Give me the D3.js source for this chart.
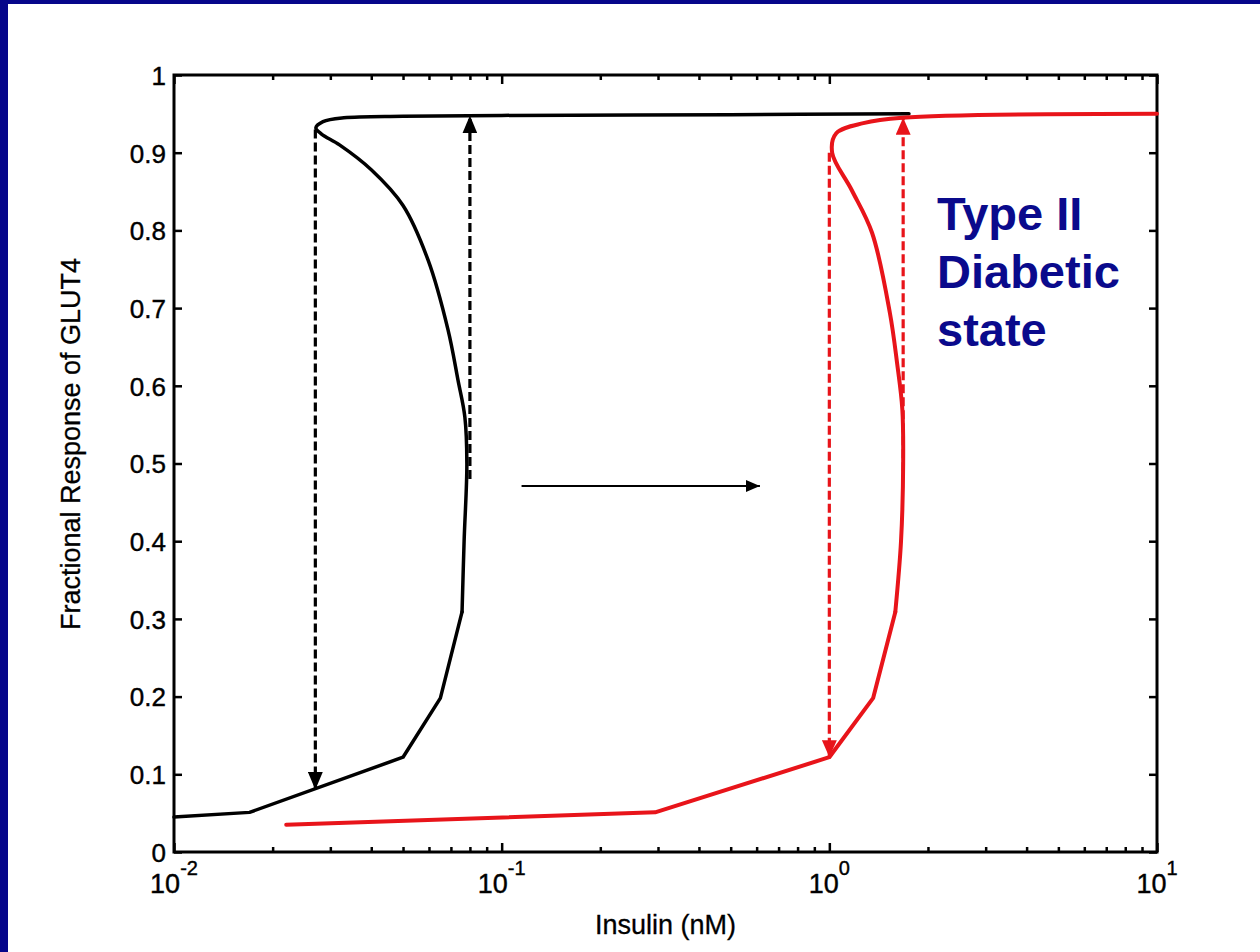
<!DOCTYPE html>
<html>
<head>
<meta charset="utf-8">
<script src="https://cdn.jsdelivr.net/npm/d3@7"></script>
<style>
    body { margin: 0; background: #fff; }
    svg { display: block; }
    text { font-family: "Liberation Sans", Arial, sans-serif; }
</style>
</head>
<body>
<div id="chart"></div>
<script>

// normal cells: lower branch (kinked) then unstable middle branch and upper branch (smooth)
const normalLowX = [0.01, 0.017, 0.05, 0.065, 0.0757];
const normalLowY = [0.045, 0.051, 0.122, 0.198, 0.309];
const normalX = [0.0757, 0.0768, 0.0783, 0.0772, 0.0736, 0.0686, 0.0596, 0.050, 0.040, 0.032, 0.0282, 0.0271, 0.0285, 0.033, 0.05, 0.1, 0.5, 1.75];
const normalY = [0.309, 0.40, 0.5, 0.56, 0.607, 0.672, 0.762, 0.832, 0.878, 0.91, 0.924, 0.932, 0.94, 0.945, 0.947, 0.948, 0.949, 0.95];

// type II diabetic cells
const diabeticLowX = [0.022, 0.294, 1.0, 1.36, 1.59];
const diabeticLowY = [0.035, 0.051, 0.122, 0.198, 0.309];
const diabeticX = [1.59, 1.655, 1.68, 1.67, 1.61, 1.53, 1.35, 1.17, 1.02, 1.05, 1.27, 1.67, 10];
const diabeticY = [0.309, 0.40, 0.5, 0.57, 0.629, 0.694, 0.797, 0.852, 0.90, 0.925, 0.938, 0.945, 0.95];

// switching jumps (dashed arrows): x, from y, to y
const normalJumpX = [0.027, 0.080];
const normalJumpFrom = [0.93, 0.48];
const normalJumpTo = [0.08, 0.948];
const diabeticJumpX = [1.0, 1.68];
const diabeticJumpFrom = [0.90, 0.49];
const diabeticJumpTo = [0.122, 0.945];

// shift arrow in the middle
const shiftX = [0.115, 0.614];
const shiftY = 0.471;

const yTicks = [0, 0.1, 0.2, 0.3, 0.4, 0.5, 0.6, 0.7, 0.8, 0.9, 1];
const xTickExps = [-2, -1, 0, 1];
const noteLines = ["Type II", "Diabetic", "state"];

const W = 1260, H = 952;
const plot = {left: 174, top: 75, right: 1157, bottom: 852};

const svg = d3.select("#chart").append("svg")
    .attr("width", W)
    .attr("height", H);

// slide background: navy frame, white panel
svg.append("rect").attr("width", W).attr("height", H).attr("fill", "#06068a");
svg.append("rect").attr("x", 8).attr("y", 4).attr("width", W - 8).attr("height", H - 4).attr("fill", "#fff");

const x = d3.scaleLog().domain([0.01, 10]).range([plot.left, plot.right]);
const y = d3.scaleLinear().domain([0, 1]).range([plot.bottom, plot.top]);

const defs = svg.append("defs");
function marker(id, color, w, l) {
    defs.append("marker")
        .attr("id", id)
        .attr("markerUnits", "userSpaceOnUse")
        .attr("viewBox", `0 ${-w / 2} ${l} ${w}`)
        .attr("refX", l).attr("refY", 0)
        .attr("markerWidth", l).attr("markerHeight", w)
        .attr("orient", "auto")
        .append("path")
        .attr("d", `M0,${-w / 2}L${l},0L0,${w / 2}Z`)
        .attr("fill", color);
}
marker("headBlack", "#000", 15, 18);
marker("headRed", "#e8141a", 15, 17);
marker("headThin", "#000", 12, 14);

// axes - matlab style, ticks inward on all four sides
const axisStyle = (g) => {
    g.select(".domain").remove();
    g.selectAll(".tick line").attr("stroke", "#000").attr("stroke-width", 2.5);
    g.selectAll(".tick text").attr("fill", "#000").style("font-size", "26px")
        .attr("stroke", "#000").attr("stroke-width", 0.4);
};

svg.append("g")
    .attr("transform", `translate(${plot.left},0)`)
    .call(d3.axisLeft(y).tickValues(yTicks).tickSize(-8).tickPadding(8).tickFormat(d3.format("")))
    .call(axisStyle)
    .selectAll(".tick text").attr("dy", "0.36em");

svg.append("g")
    .attr("transform", `translate(${plot.right},0)`)
    .call(d3.axisRight(y).tickValues(yTicks).tickSize(-8).tickFormat(""))
    .call(axisStyle);

const minor = x.ticks().filter((v) => !xTickExps.includes(Math.round(Math.log10(v) * 1000) / 1000));
const major = xTickExps.map((e) => Math.pow(10, e));

[[plot.bottom, d3.axisBottom], [plot.top, d3.axisTop]].forEach(([pos, axisFn]) => {
    svg.append("g")
        .attr("transform", `translate(0,${pos})`)
        .call(axisFn(x).tickValues(minor).tickSize(-5).tickFormat(""))
        .call(axisStyle);
    svg.append("g")
        .attr("transform", `translate(0,${pos})`)
        .call(axisFn(x).tickValues(major).tickSize(-9).tickFormat(""))
        .call(axisStyle);
});

// x tick labels with superscript exponents
const xLabels = svg.append("g").selectAll("text")
    .data(xTickExps)
    .enter().append("text")
    .attr("x", (d) => x(Math.pow(10, d)))
    .attr("y", plot.bottom + 41)
    .attr("text-anchor", "middle")
    .style("font-size", "27px")
    .attr("fill", "#000")
    .attr("stroke", "#000").attr("stroke-width", 0.4);
xLabels.append("tspan").text("10");
xLabels.append("tspan").attr("dy", -18).style("font-size", "20px").text((d) => d);

// plot frame
svg.append("rect")
    .attr("x", plot.left).attr("y", plot.top)
    .attr("width", plot.right - plot.left).attr("height", plot.bottom - plot.top)
    .attr("fill", "none").attr("stroke", "#000").attr("stroke-width", 3);

// axis titles
svg.append("text")
    .attr("x", (plot.left + plot.right) / 2)
    .attr("y", 934)
    .attr("text-anchor", "middle")
    .style("font-size", "27px")
    .attr("stroke", "#000").attr("stroke-width", 0.3)
    .text("Insulin (nM)");

svg.append("text")
    .attr("transform", "translate(80,444) rotate(-90)")
    .attr("text-anchor", "middle")
    .style("font-size", "27px")
    .attr("stroke", "#000").attr("stroke-width", 0.3)
    .text("Fractional Response of GLUT4");

// curves
const lineLin = d3.line().x((d) => x(d[0])).y((d) => y(d[1]));
const lineSmooth = d3.line().x((d) => x(d[0])).y((d) => y(d[1])).curve(d3.curveCatmullRom.alpha(0.5));

function drawCurve(lowX, lowY, xs, ys, color, width) {
    const low = lowX.map((v, i) => [v, lowY[i]]);
    const rest = xs.map((v, i) => [v, ys[i]]);
    [[low, lineLin], [rest, lineSmooth]].forEach(([pts, gen]) => {
        svg.append("path")
            .attr("d", gen(pts))
            .attr("fill", "none")
            .attr("stroke", color)
            .attr("stroke-width", width)
            .attr("stroke-linejoin", "round")
            .attr("stroke-linecap", "round");
    });
}

function drawJumps(xs, from, to, color, head) {
    svg.append("g").selectAll("line")
        .data(xs)
        .enter().append("line")
        .attr("x1", (d) => x(d))
        .attr("x2", (d) => x(d))
        .attr("y1", (d, i) => y(from[i]))
        .attr("y2", (d, i) => y(to[i]))
        .attr("stroke", color)
        .attr("stroke-width", 3.2)
        .attr("stroke-dasharray", "9,4")
        .attr("marker-end", `url(#${head})`);
}

drawJumps(normalJumpX, normalJumpFrom, normalJumpTo, "#000", "headBlack");
drawJumps(diabeticJumpX, diabeticJumpFrom, diabeticJumpTo, "#e8141a", "headRed");
drawCurve(normalLowX, normalLowY, normalX, normalY, "#000", 3.5);
drawCurve(diabeticLowX, diabeticLowY, diabeticX, diabeticY, "#e8141a", 4);

// shift arrow
svg.append("line")
    .attr("x1", x(shiftX[0])).attr("x2", x(shiftX[1]))
    .attr("y1", y(shiftY)).attr("y2", y(shiftY))
    .attr("stroke", "#000").attr("stroke-width", 2)
    .attr("marker-end", "url(#headThin)");

// annotation
svg.append("g").selectAll("text")
    .data(noteLines)
    .enter().append("text")
    .attr("x", 937)
    .attr("y", (d, i) => 230 + i * 58)
    .style("font-size", "47px")
    .style("font-weight", "bold")
    .attr("fill", "#0a0a8c")
    .text((d) => d);

</script>
</body>
</html>
